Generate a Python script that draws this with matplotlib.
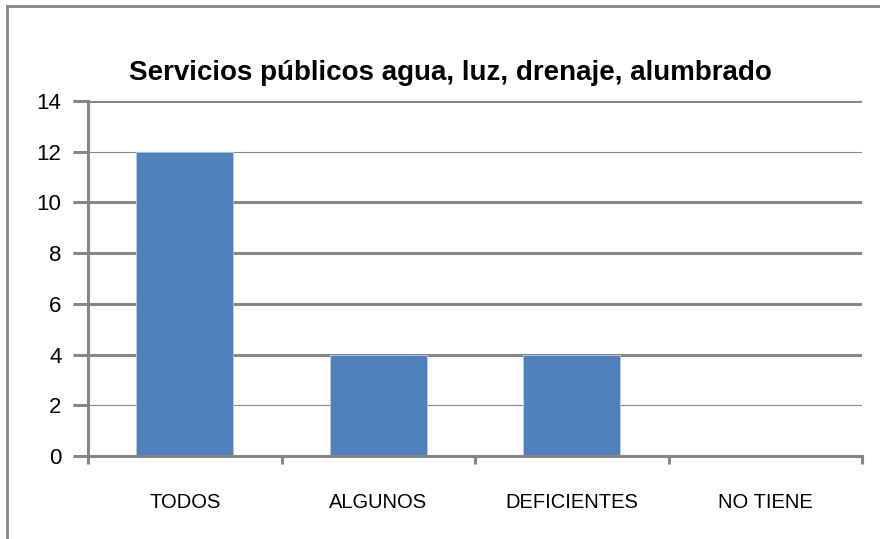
import matplotlib
matplotlib.use('Agg')
import matplotlib.pyplot as plt
from matplotlib.lines import Line2D

categories = ['TODOS', 'ALGUNOS', 'DEFICIENTES', 'NO TIENE']
values = [12, 4, 4, 0]
yticks = [0, 2, 4, 6, 8, 10, 12, 14]
title = 'Servicios públicos agua, luz, drenaje, alumbrado'

plt.rcParams['font.family'] = ['Liberation Sans', 'DejaVu Sans']

grey = '#868686'
bar_color = '#4F81BD'

fig = plt.figure(figsize=(8.8, 5.39), dpi=100)
ax = fig.add_axes([88 / 880, 83 / 539, 774 / 880, 355 / 539])

# outer chart border (only top and left fall inside the picture)
fig.add_artist(Line2D([6.5 / 880, 6.5 / 880], [0, 1 - 5.5 / 539], transform=fig.transFigure, color=grey, lw=2))
fig.add_artist(Line2D([6.5 / 880, 1], [1 - 5.5 / 539, 1 - 5.5 / 539], transform=fig.transFigure, color=grey, lw=2))

x = list(range(len(categories)))
ax.bar(x, values, width=0.5, color=bar_color, edgecolor='#b9cde5', linewidth=0.6, zorder=3)

ax.set_xlim(-0.5, len(categories) - 0.5)
ax.set_ylim(0, 14)

# horizontal gridlines, some drawn heavier as in the original rendering
heavy = [14, 10, 8, 6, 4]
for y in yticks[1:]:
    ax.axhline(y, color=grey, lw=2.2 if y in heavy else 0.8, zorder=1)

for side in ['top', 'right']:
    ax.spines[side].set_visible(False)
ax.spines['left'].set_color(grey)
ax.spines['left'].set_linewidth(2.2)
ax.spines['bottom'].set_color(grey)
ax.spines['bottom'].set_linewidth(2.2)
ax.spines['bottom'].set_zorder(4)

ax.set_yticks(yticks)
ax.set_yticklabels([str(v) for v in yticks])
ax.tick_params(axis='y', length=11, width=2.2, color=grey, pad=8, labelsize=16)

ax.set_xticks(x)
ax.set_xticklabels(categories)
ax.tick_params(axis='x', which='major', length=0, pad=27, labelsize=14.5)
ax.set_xticks([i - 0.5 for i in range(len(categories) + 1)], minor=True)
ax.tick_params(axis='x', which='minor', length=6, width=2.2, color=grey)

fig.text(450 / 880, 1 - 73 / 539, title, ha='center', va='center', fontsize=20, fontweight='bold')

fig.savefig('out.png', dpi=100)
